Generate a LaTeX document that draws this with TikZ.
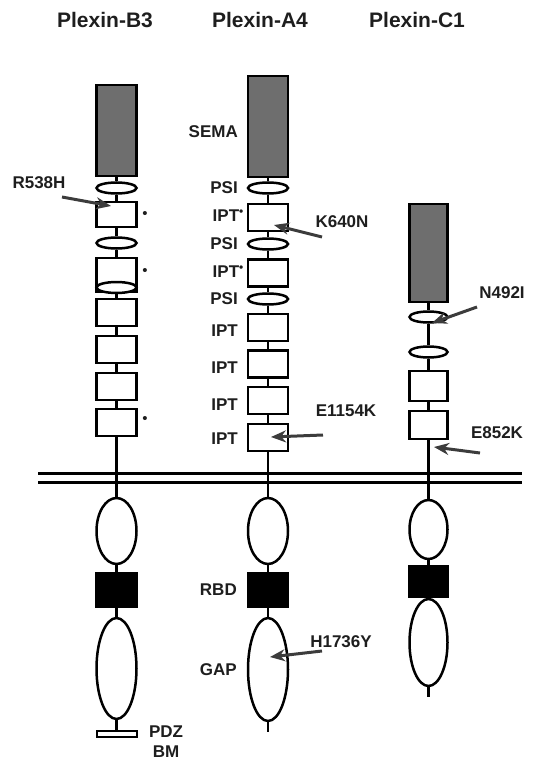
\documentclass[tikz,border=0pt]{standalone}
\usepackage{fontspec}
\setmainfont{Liberation Sans}
\usetikzlibrary{arrows.meta, shapes.geometric}
\definecolor{semagray}{HTML}{6E6E6E}
\definecolor{arrowgray}{HTML}{3C3C3C}
\definecolor{txt}{HTML}{1E1E1E}

\begin{document}
\begin{tikzpicture}[
  x=1pt, y=-1pt,
  font=\bfseries\fontsize{17}{20}\selectfont, text=txt,
  dom/.style={draw, line width=2.5pt, inner sep=0pt, minimum width=40pt},
  sema/.style={dom, rectangle, fill=semagray},
  ipt/.style={dom, rectangle, fill=white},
  psi/.style={dom, ellipse, fill=white, minimum height=11pt},
  rbd/.style={dom, rectangle, fill=black},
  lobe/.style={dom, ellipse, fill=white},
  stalk/.style={line width=2.5pt},
  membrane/.style={line width=3pt},
  mut/.style={-{Stealth[length=15pt, width=12pt]}, line width=3pt, draw=arrowgray},
  lab/.style={anchor=east, inner sep=0pt},
  dotmark/.style={inner sep=0pt, font=\fontsize{15}{15}\selectfont},
  title/.style={font=\bfseries\fontsize{21}{24}\selectfont},
]
\useasboundingbox (0,0) rectangle (533,762);

% Titles
\node[title] (tb3) at (105,20) {Plexin-B3};
\node[title] (ta4) at (260,20) {Plexin-A4};
\node[title] (tc1) at (417,20) {Plexin-C1};

% Membrane
\draw[membrane] (38,473) -- (522,473);
\draw[membrane] (38,482) -- (522,482);

% Plexin-B3
\node[sema, minimum height=91pt] (b3sema) at (116.5,130.5) {};
\node[psi] (b3psi1) at (116.5,188) {};
\node[ipt, minimum height=25pt] (b3ipt1) at (116.5,214.5) {};
\node[psi] (b3psi2) at (116.5,243) {};
\node[ipt, minimum height=34pt] (b3ipt2) at (116.5,275) {};
\node[psi] (b3psi3) at (116.5,287.5) {};
\foreach \n/\y in {3/312.5, 4/349.5, 5/386.5, 6/422.5}
  \node[ipt, minimum height=27pt] (b3ipt\n) at (116.5,\y) {};
\node[lobe, minimum height=66pt] (b3ell) at (116.5,531) {};
\node[rbd, minimum height=34pt] (b3rbd) at (116.5,590) {};
\node[lobe, minimum height=101pt] (b3gap) at (116.5,668.5) {};
\node[ipt, minimum height=6pt, line width=2pt] (b3pdz) at (116.5,734) {};
\foreach \a/\b in {b3sema/b3psi1, b3psi1/b3ipt1, b3ipt1/b3psi2, b3psi2/b3ipt2,
                   b3psi3/b3ipt3, b3ipt3/b3ipt4, b3ipt4/b3ipt5, b3ipt5/b3ipt6,
                   b3ipt6/b3ell, b3ell/b3rbd, b3rbd/b3gap, b3gap/b3pdz}
  \draw[stalk] (\a) -- (\b);
\foreach \n/\y in {1/215, 2/272, 3/420}
  \node[dotmark] (b3dot\n) at (145,\y) {\textbullet};
\node[inner sep=0pt, align=center] (pdzbm) at (166,742) {PDZ\\BM};

% Plexin-A4
\node[sema, minimum height=101pt] (a4sema) at (268,126.5) {};
\foreach \n/\y in {1/188, 2/244, 3/299}
  \node[psi] (a4psi\n) at (268,\y) {};
\foreach \n/\y in {1/217.5, 2/273, 3/327.5, 4/364, 5/400.5, 6/437.5}
  \node[ipt, minimum height=27pt] (a4ipt\n) at (268,\y) {};
\node[lobe, minimum height=66pt] (a4ell) at (268,531) {};
\node[rbd, minimum height=34pt] (a4rbd) at (268,590) {};
\node[lobe, minimum height=103pt] (a4gap) at (268,669.5) {};
\coordinate (a4end) at (268,732);
\foreach \a/\b in {a4sema/a4psi1, a4psi1/a4ipt1, a4ipt1/a4psi2, a4psi2/a4ipt2,
                   a4ipt2/a4psi3, a4psi3/a4ipt3, a4ipt3/a4ipt4, a4ipt4/a4ipt5,
                   a4ipt5/a4ipt6, a4ipt6/a4ell, a4ell/a4rbd, a4rbd/a4gap, a4gap/a4end}
  \draw[stalk] (\a) -- (\b);
% domain labels
\node[lab] (lsema) at (238,132) {SEMA};
\foreach \n/\y in {1/188, 2/244, 3/299}
  \node[lab] (lpsi\n) at (238,\y) {PSI};
\foreach \n/\y in {1/216, 2/272}
  \node[lab] (lipts\n) at (244,\y) {IPT\textsuperscript{\textbullet}};
\foreach \n/\y in {1/331, 2/368, 3/405, 4/439}
  \node[lab] (lipt\n) at (238,\y) {IPT};
\node[lab] (lrbd) at (237,590) {RBD};
\node[lab] (lgap) at (237,670) {GAP};

% Plexin-C1
\node[sema, minimum width=38pt, minimum height=98pt] (c1sema) at (428.5,253) {};
\node[psi, minimum width=38pt] (c1psi1) at (428.5,317) {};
\node[psi, minimum width=38pt] (c1psi2) at (428.5,352) {};
\node[ipt, minimum width=38pt, minimum height=30pt] (c1ipt1) at (428.5,386) {};
\node[ipt, minimum width=38pt, minimum height=28pt] (c1ipt2) at (428.5,425) {};
\node[lobe, minimum width=38pt, minimum height=59pt] (c1ell) at (428.5,529.5) {};
\node[rbd, minimum width=38pt, minimum height=31pt] (c1rbd) at (428.5,581.5) {};
\node[lobe, minimum width=38pt, minimum height=87pt] (c1gap) at (428.5,642.5) {};
\coordinate (c1end) at (428.5,697);
\foreach \a/\b in {c1sema/c1psi1, c1psi1/c1psi2, c1psi2/c1ipt1, c1ipt1/c1ipt2,
                   c1ipt2/c1ell, c1ell/c1rbd, c1gap/c1end}
  \draw[stalk] (\a) -- (\b);

% Mutations
\node (r538h) at (39,183) {R538H};
\coordinate (r538h-from) at (62,197);
\coordinate (r538h-to) at (111,206);
\draw[mut] (r538h-from) -- (r538h-to);

\node (k640n) at (342,222) {K640N};
\coordinate (k640n-from) at (322,237);
\coordinate (k640n-to) at (274,225);
\draw[mut] (k640n-from) -- (k640n-to);

\node (e1154k) at (346,411) {E1154K};
\coordinate (e1154k-from) at (323,435);
\coordinate (e1154k-to) at (271,437);
\draw[mut] (e1154k-from) -- (e1154k-to);

\node (h1736y) at (341,642) {H1736Y};
\coordinate (h1736y-from) at (322,651);
\coordinate (h1736y-to) at (270,657);
\draw[mut] (h1736y-from) -- (h1736y-to);

\node (n492i) at (502,293) {N492I};
\coordinate (n492i-from) at (477,307);
\coordinate (n492i-to) at (432,323);
\draw[mut] (n492i-from) -- (n492i-to);

\node (e852k) at (497,433) {E852K};
\coordinate (e852k-from) at (480,453);
\coordinate (e852k-to) at (434,447);
\draw[mut] (e852k-from) -- (e852k-to);
\end{tikzpicture}
\end{document}
